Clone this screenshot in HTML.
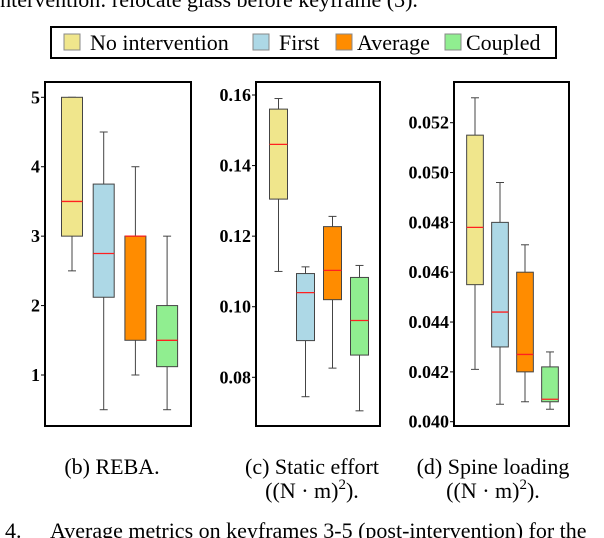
<!DOCTYPE html>
<html><head><meta charset="utf-8"><style>
html,body{margin:0;padding:0;background:#fff;}
svg{display:block;font-family:"Liberation Serif",serif;}
</style></head><body>
<svg id="chart" width="604" height="538" viewBox="0 0 604 538" xmlns="http://www.w3.org/2000/svg">
<text x="-6" y="7" font-size="22">intervention: relocate glass before keyframe (3).</text>
<g>
<rect x="51" y="27" width="505" height="31" fill="#fff" stroke="#000" stroke-width="2"/>
<rect x="64" y="34" width="16" height="16" fill="#f0e68c" stroke="#888"/><text x="90" y="50" font-size="22">No intervention</text>
<rect x="253" y="34" width="16" height="16" fill="#add8e6" stroke="#888"/><text x="279" y="50" font-size="22">First</text>
<rect x="336" y="34" width="16" height="16" fill="#ff8c00" stroke="#888"/><text x="357" y="50" font-size="22">Average</text>
<rect x="445" y="34" width="16" height="16" fill="#90ee90" stroke="#888"/><text x="466" y="50" font-size="22">Coupled</text>
</g>
<g id="plots"></g>
<text x="112" y="474" font-size="22" text-anchor="middle">(b) REBA.</text>
<text x="312" y="474" font-size="22" text-anchor="middle">(c) Static effort</text>
<text x="312" y="498" font-size="22" text-anchor="middle">((N · m)<tspan font-size="15" dy="-9">2</tspan><tspan dy="9">).</tspan></text>
<text x="493" y="474" font-size="22" text-anchor="middle">(d) Spine loading</text>
<text x="493" y="498" font-size="22" text-anchor="middle">((N · m)<tspan font-size="15" dy="-9">2</tspan><tspan dy="9">).</tspan></text>
<text x="-6" y="538" font-size="22">. 4.<tspan x="50">Average metrics on keyframes 3-5 (post-intervention) for the</tspan></text>
</svg>
<script>
const categories = ["No intervention","First","Average","Coupled"];
const colors = ["#f0e68c","#add8e6","#ff8c00","#90ee90"];
// [whiskerLow, q1, median, q3, whiskerHigh]
const rebaValues = [[2.5,3,3.5,5,5],[0.5,2.12,2.75,3.75,4.5],[1,1.5,3,3,4],[0.5,1.12,1.5,2,3]];
const rebaTicks = [1,2,3,4,5];
const staticValues = [[0.110,0.1305,0.146,0.156,0.159],[0.0745,0.0904,0.104,0.1094,0.1113],[0.0826,0.102,0.1103,0.1227,0.1256],[0.0705,0.0863,0.0961,0.1083,0.1117]];
const staticTicks = [0.08,0.10,0.12,0.14,0.16];
const spineValues = [[0.0421,0.0455,0.0478,0.0515,0.0530],[0.0407,0.0430,0.0444,0.0480,0.0496],[0.0408,0.0420,0.0427,0.0460,0.0471],[0.0405,0.0408,0.0409,0.0422,0.0428]];
const spineTicks = [0.040,0.042,0.044,0.046,0.048,0.050,0.052];

const NS="http://www.w3.org/2000/svg";
const root=document.getElementById('plots');
function mk(tag,attrs,parent){const e=document.createElementNS(NS,tag);for(const k in attrs)e.setAttribute(k,attrs[k]);parent.appendChild(e);return e;}
function panel(cfg){
  const g=mk('g',{},root);
  
  
  const y=v=>cfg.yA+(v-cfg.vA)*(cfg.yB-cfg.yA)/(cfg.vB-cfg.vA);
  cfg.values.forEach((d,i)=>{
    const cx=cfg.x0+i*cfg.step, w=cfg.w;
    const bg=mk('g',{},g);
    
    
    mk('line',{x1:cx,x2:cx,y1:y(d[0]),y2:y(d[4]),stroke:'#444','stroke-width':1},bg);
    mk('line',{x1:cx-4,x2:cx+4,y1:y(d[0]),y2:y(d[0]),stroke:'#444','stroke-width':1},bg);
    mk('line',{x1:cx-4,x2:cx+4,y1:y(d[4]),y2:y(d[4]),stroke:'#444','stroke-width':1},bg);
    mk('rect',{x:cx-w/2,y:y(d[3]),width:w,height:y(d[1])-y(d[3]),fill:colors[i],stroke:'#444','stroke-width':1},bg);
    mk('line',{x1:cx-w/2,x2:cx+w/2,y1:y(d[2]),y2:y(d[2]),stroke:'#ff2020','stroke-width':1.3},bg);
  });
  const f=mk('rect',{x:cfg.fx,y:82,width:cfg.fw,height:344,fill:'none',stroke:'#000','stroke-width':2},g);
  
  
  cfg.ticks.forEach(t=>{
    const yy=y(t);
    mk('line',{x1:cfg.fx-4,x2:cfg.fx,y1:yy,y2:yy,stroke:'#000','stroke-width':1},g);
    const tx=mk('text',{x:cfg.fx-5,y:yy+6,'text-anchor':'end','font-size':18,'font-weight':'bold'},g);
    tx.textContent=cfg.fmt(t);
    
    
  });
}
panel({name:'reba-plot',values:rebaValues,ticks:rebaTicks,fmt:t=>String(t),fx:45,fw:146,x0:72,step:31.7,w:21,vA:5,yA:97.3,vB:1,yB:375});
panel({name:'static-effort-plot',values:staticValues,ticks:staticTicks,fmt:t=>t.toFixed(2),fx:256,fw:124,x0:278.5,step:27,w:18,vA:0.16,yA:95,vB:0.08,yB:377.3});
panel({name:'spine-loading-plot',values:spineValues,ticks:spineTicks,fmt:t=>t.toFixed(3),fx:454,fw:115,x0:475,step:25,w:16.7,vA:0.052,yA:122.7,vB:0.040,yB:421.7});
</script>
</body></html>
